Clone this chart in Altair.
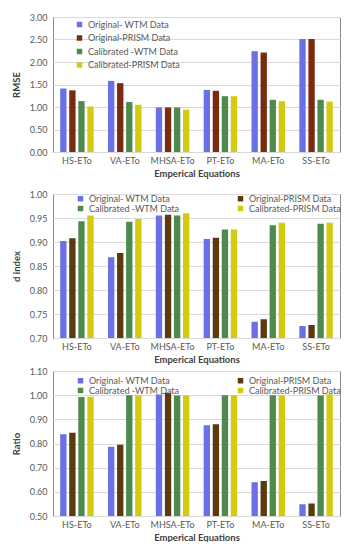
import altair as alt
import pandas as pd

equations = ["HS-ETo", "VA-ETo", "MHSA-ETo", "PT-ETo", "MA-ETo", "SS-ETo"]
series = ["Original- WTM Data", "Original-PRISM Data", "Calibrated -WTM Data", "Calibrated-PRISM Data"]
legend_order_2col = ["Original- WTM Data", "Calibrated -WTM Data", "Original-PRISM Data", "Calibrated-PRISM Data"]

rmse_orig_wtm = [1.41, 1.58, 0.99, 1.38, 2.24, 2.51]
rmse_orig_prism = [1.37, 1.53, 0.99, 1.36, 2.21, 2.51]
rmse_cal_wtm = [1.13, 1.11, 0.99, 1.24, 1.16, 1.16]
rmse_cal_prism = [1.01, 1.05, 0.94, 1.24, 1.13, 1.12]

d_orig_wtm = [0.902, 0.868, 0.955, 0.906, 0.734, 0.725]
d_orig_prism = [0.908, 0.877, 0.957, 0.909, 0.739, 0.727]
d_cal_wtm = [0.943, 0.942, 0.955, 0.926, 0.935, 0.938]
d_cal_prism = [0.955, 0.948, 0.960, 0.926, 0.940, 0.940]

ratio_orig_wtm = [0.838, 0.787, 1.003, 0.876, 0.640, 0.549]
ratio_orig_prism = [0.844, 0.795, 1.010, 0.880, 0.645, 0.552]
ratio_cal_wtm = [0.992, 1.000, 0.999, 1.000, 1.000, 0.999]
ratio_cal_prism = [0.993, 1.000, 0.999, 1.000, 1.000, 1.004]

colors_1 = ["#6B70E6", "#7A2A10", "#4E8A4E", "#D4CB10"]
colors_23 = ["#6B70E6", "#5A3A0E", "#4E8A4E", "#D4CB10"]

FONT = "Lato"
LBL = "#595959"


def make_df(lists):
    rows = []
    for s, vals in zip(series, lists):
        for e, v in zip(equations, vals):
            rows.append({"eq": e, "series": s, "value": v})
    return pd.DataFrame(rows)


def panel(df, title, domain, step, colors, h, legend):
    ticks = []
    v = domain[0]
    while v <= domain[1] + 1e-9:
        ticks.append(round(v, 3))
        v += step
    return alt.Chart(df).mark_bar(clip=True).encode(
        x=alt.X("eq:N", sort=equations, title="Emperical Equations",
                scale=alt.Scale(paddingInner=0.3, paddingOuter=0.15),
                axis=alt.Axis(labelAngle=0, ticks=False, domain=False,
                              labelFontSize=9, labelColor=LBL, labelFont=FONT,
                              titleFontSize=9.5, titleFont=FONT, titleColor="#404040",
                              titleFontWeight="bold", labelPadding=4, titlePadding=3)),
        xOffset=alt.XOffset("series:N", sort=series, scale=alt.Scale(paddingInner=0.3)),
        y=alt.Y("value:Q", title=title,
                scale=alt.Scale(domain=domain, zero=False, nice=False),
                axis=alt.Axis(values=ticks, format=".2f", ticks=False, domain=False,
                              gridColor="#D9D9D9", labelFontSize=9, labelColor=LBL,
                              labelFont=FONT, titleFontSize=9.5, titleFont=FONT,
                              titleColor="#404040", titleFontWeight="bold",
                              labelPadding=6, titlePadding=8)),
        color=alt.Color("series:N", sort=series,
                        scale=alt.Scale(domain=series, range=colors),
                        legend=legend),
    ).properties(width=287, height=h)


leg1 = alt.Legend(title=None, orient="none", legendX=22, legendY=3, direction="vertical",
                  symbolType="square", symbolSize=30, labelFontSize=9, labelColor=LBL,
                  labelFont=FONT, rowPadding=3.5, symbolStrokeWidth=0)
leg2 = alt.Legend(title=None, orient="none", legendX=23, legendY=0, columns=2,
                  values=legend_order_2col,
                  symbolType="square", symbolSize=30, labelFontSize=9, labelColor=LBL,
                  labelFont=FONT, rowPadding=0, columnPadding=56, symbolStrokeWidth=0)
leg3 = alt.Legend(title=None, orient="none", legendX=23, legendY=5, columns=2,
                  values=legend_order_2col,
                  symbolType="square", symbolSize=30, labelFontSize=9, labelColor=LBL,
                  labelFont=FONT, rowPadding=0, columnPadding=56, symbolStrokeWidth=0)

p1 = panel(make_df([rmse_orig_wtm, rmse_orig_prism, rmse_cal_wtm, rmse_cal_prism]),
           "RMSE", [0.0, 3.0], 0.5, colors_1, 135, leg1)
p2 = panel(make_df([d_orig_wtm, d_orig_prism, d_cal_wtm, d_cal_prism]),
           "d index", [0.70, 1.00], 0.05, colors_23, 144, leg2)
p3 = panel(make_df([ratio_orig_wtm, ratio_orig_prism, ratio_cal_wtm, ratio_cal_prism]),
           "Ratio", [0.50, 1.10], 0.1, colors_23, 145, leg3)

top = alt.vconcat(p1, p2, spacing=11).resolve_scale(color="independent").resolve_legend(
    color="independent")

chart = alt.vconcat(top, p3, spacing=2).resolve_scale(color="independent").resolve_legend(
    color="independent"
).properties(
    padding={"left": 2, "top": 4, "right": 5, "bottom": 0}
).configure_view(stroke="#8C8C8C", strokeWidth=1)

chart.save("out.html", embed_options={"renderer": "svg", "actions": False})
